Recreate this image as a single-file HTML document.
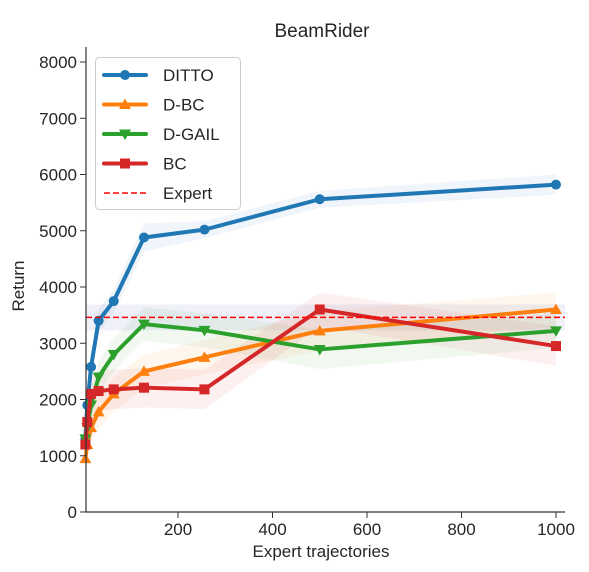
<!DOCTYPE html>
<html><head><meta charset="utf-8"><style>
body{margin:0;background:#fff;}
svg text{font-family:"Liberation Sans",sans-serif;fill:#262626;}
</style></head><body>
<svg id="chart" width="589" height="567" xmlns="http://www.w3.org/2000/svg">
<text x="322" y="37" font-size="19" text-anchor="middle">BeamRider</text>
<g id="bands"></g>
<g id="grid"></g>
<g id="lines"></g>
<g id="axes"></g>
<text x="321" y="557" font-size="17" text-anchor="middle">Expert trajectories</text>
<text transform="translate(24,286) rotate(-90)" font-size="17" text-anchor="middle">Return</text>
<g id="legend"></g>
</svg>
<script>
const xVals=[4,8,16,32,64,128,256,500,1000];
const ditto=[1300,1900,2580,3400,3750,4880,5020,5560,5820];
const dbc=[950,1200,1500,1780,2100,2500,2750,3220,3600];
const dgail=[1300,1500,1900,2400,2800,3340,3230,2890,3220];
const bc=[1200,1600,2100,2150,2180,2210,2180,3600,2950];
const dittoErr=[150,200,200,200,200,250,150,150,180];
const dbcErr=[150,200,250,300,300,300,300,350,300];
const dgailErr=[150,200,250,300,300,300,300,350,300];
const bcErr=[200,300,350,350,350,350,350,300,350];
const expert=3460, expertErr=230;
const xTicks=[200,400,600,800,1000];
const yTicks=[0,1000,2000,3000,4000,5000,6000,7000,8000];
const X=v=>83.5+v*0.4725;
const Y=v=>512-v*0.05625;
const NS="http://www.w3.org/2000/svg";
function mk(t,attrs,parent){const e=document.createElementNS(NS,t);for(const k in attrs)e.setAttribute(k,attrs[k]);parent.appendChild(e);return e;}
const bands=document.getElementById('bands'),lines=document.getElementById('lines'),axes=document.getElementById('axes'),legend=document.getElementById('legend');
let eb=mk('rect',{x:86,y:Y(expert+expertErr),width:565-86,height:Y(expert-expertErr)-Y(expert+expertErr),fill:'#3040a0','fill-opacity':0.08},bands);


const series=[
 {name:'ditto',vals:ditto,err:dittoErr,c:'#1f77b4',m:'circle'},
 {name:'d-bc',vals:dbc,err:dbcErr,c:'#ff7f0e',m:'up'},
 {name:'d-gail',vals:dgail,err:dgailErr,c:'#2ca02c',m:'down'},
 {name:'bc',vals:bc,err:bcErr,c:'#d62728',m:'square'}];
function marker(m,x,y,c,parent){
 if(m==='circle')return mk('circle',{cx:x,cy:y,r:5,fill:c},parent);
 if(m==='square')return mk('rect',{x:x-5,y:y-5,width:10,height:10,fill:c},parent);
 if(m==='up')return mk('polygon',{points:`${x},${y-6} ${x-6},${y+4.5} ${x+6},${y+4.5}`,fill:c},parent);
 return mk('polygon',{points:`${x},${y+6} ${x-6},${y-4.5} ${x+6},${y-4.5}`,fill:c},parent);
}
series.forEach(s=>{
 let up=xVals.map((x,i)=>X(x)+','+Y(s.vals[i]+s.err[i]));
 let dn=xVals.map((x,i)=>X(x)+','+Y(s.vals[i]-s.err[i])).reverse();
 let b=mk('polygon',{points:up.concat(dn).join(' '),fill:s.c,'fill-opacity':0.07},bands);
 
 
});
series.forEach(s=>{
 const g=mk('g',{},lines);
 
 
 mk('polyline',{points:xVals.map((x,i)=>X(x)+','+Y(s.vals[i])).join(' '),fill:'none',stroke:s.c,'stroke-width':4,'stroke-linejoin':'round'},g);
 xVals.forEach((x,i)=>{const p=marker(s.m,X(x),Y(s.vals[i]),s.c,g);
  
  });
});
let el=mk('line',{x1:86,x2:565,y1:Y(expert),y2:Y(expert),stroke:'#ff0000','stroke-width':1.6,'stroke-dasharray':'6,3'},lines);


mk('line',{x1:86,x2:86,y1:47,y2:512,stroke:'#333','stroke-width':1.2},axes);
mk('line',{x1:86,x2:565,y1:512,y2:512,stroke:'#333','stroke-width':1.2},axes);
yTicks.forEach(v=>{
 mk('line',{x1:80,x2:86,y1:Y(v),y2:Y(v),stroke:'#333'},axes);
 const t=mk('text',{x:77,y:Y(v)+6,'font-size':17,'text-anchor':'end'},axes);t.textContent=v;
 
 
});
xTicks.forEach(v=>{
 mk('line',{x1:X(v),x2:X(v),y1:512,y2:518,stroke:'#333'},axes);
 const t=mk('text',{x:X(v),y:535,'font-size':17,'text-anchor':'middle'},axes);t.textContent=v;
 
 
});
const lb=mk('rect',{x:95.5,y:57.5,width:145,height:152,rx:4,fill:'#fff','fill-opacity':0.85,stroke:'#ccc'},legend);


const labels=['DITTO','D-BC','D-GAIL','BC'];
series.forEach((s,i)=>{
 const y=75+i*29.5;
 const g=mk('g',{},legend);
 
 
 mk('line',{x1:104,x2:146,y1:y,y2:y,stroke:s.c,'stroke-width':4,'stroke-linecap':'round'},g);
 marker(s.m,125,y,s.c,g);
 const t=mk('text',{x:163,y:y+6,'font-size':17},g);t.textContent=labels[i];
});
const g=mk('g',{},legend);


mk('line',{x1:104,x2:146,y1:193,y2:193,stroke:'#ff0000','stroke-width':1.6,'stroke-dasharray':'6,3'},g);
const t=mk('text',{x:163,y:199,'font-size':17},g);t.textContent='Expert';
</script>
</body></html>
